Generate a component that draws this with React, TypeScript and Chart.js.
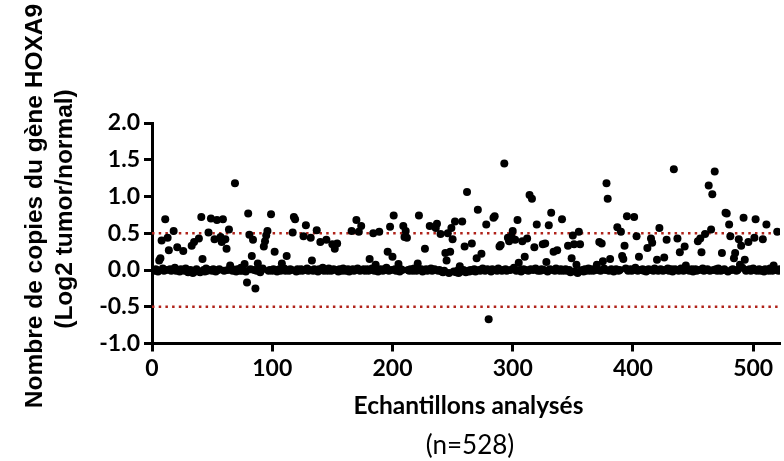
import React, { useEffect, useRef } from "react";
import { Chart, registerables } from "chart.js";

Chart.register(...registerables);

// ---- Data ----
const totalSamples = 528;

// Samples that stand out from the baseline (sample index, log2 tumor/normal)
const outlierSample = [
  6, 7, 8, 11, 13, 14, 18, 21, 26, 33,
  35, 39, 41, 42, 47, 49, 52, 54, 57, 58,
  59, 61, 62, 64, 65, 69, 77, 79, 80, 81,
  83, 84, 86, 88, 93, 94, 95, 96, 99, 102,
  108, 112, 117, 118, 119, 126, 128, 132, 133, 137,
  140, 145, 150, 152, 154, 166, 170, 172, 174, 181,
  184, 186, 189, 196, 198, 200, 201, 205, 209, 210,
  211, 212, 221, 222, 227, 231, 236, 237, 240, 244,
  245, 246, 248, 249, 250, 252, 256, 258, 260, 262,
  266, 270, 271, 274, 278, 280, 284, 285, 289, 290,
  293, 296, 297, 299, 300, 302, 304, 305, 308, 310,
  312, 314, 316, 318, 320, 325, 327, 328, 330, 332,
  334, 337, 341, 346, 349, 350, 351, 353, 355, 356,
  370, 372, 374, 375, 378, 379, 381, 387, 390, 391,
  392, 393, 395, 401, 403, 405, 412, 415, 416, 420,
  422, 426, 428, 434, 437, 439, 443, 444, 454, 456,
  457, 460, 463, 465, 466, 468, 474, 477, 478, 480,
  481, 484, 485, 488, 489, 490, 492, 493, 496, 501,
  502, 508, 511, 517, 520,
];
const outlierValue = [
  0.13, 0.16, 0.40, 0.69, 0.44, 0.27, 0.53, 0.31, 0.26, 0.33,
  0.38, 0.43, 0.72, 0.15, 0.51, 0.70, 0.42, 0.68, 0.45, 0.38,
  0.69, 0.42, 0.29, 0.55, 0.06, 1.18, 0.08, -0.17, 0.77, 0.48,
  0.19, 0.41, -0.25, 0.09, 0.32, 0.39, 0.47, 0.53, 0.76, 0.25,
  0.09, 0.19, 0.51, 0.72, 0.69, 0.46, 0.61, 0.44, 0.13, 0.54,
  0.38, 0.41, 0.35, 0.29, 0.36, 0.53, 0.68, 0.52, 0.60, 0.15,
  0.50, 0.07, 0.52, 0.25, 0.59, 0.18, 0.74, 0.08, 0.60, 0.45,
  0.53, 0.44, 0.09, 0.74, 0.29, 0.60, 0.57, 0.63, 0.49, 0.23,
  0.13, 0.50, 0.25, 0.57, 0.42, 0.66, 0.05, 0.66, 0.32, 1.06,
  0.36, 0.16, 0.82, 0.22, 0.62, -0.67, 0.71, 0.73, 0.32, 0.34,
  1.45, 0.44, 0.39, 0.46, 0.53, 0.41, 0.68, 0.10, 0.39, 0.18,
  0.43, 1.02, 0.97, 0.31, 0.62, 0.35, 0.36, 0.11, 0.61, 0.78,
  0.25, 0.27, 0.69, 0.33, 0.16, 0.47, 0.35, 0.07, 0.52, 0.35,
  0.07, 0.38, 0.36, 0.12, 1.18, 0.97, 0.15, 0.58, 0.52, 0.19,
  0.15, 0.33, 0.73, 0.72, 0.46, 0.18, 0.30, 0.43, 0.37, 0.14,
  0.57, 0.17, 0.41, 1.37, 0.43, 0.24, 0.32, 0.06, 0.39, 0.43,
  0.24, 0.49, 1.15, 0.55, 1.03, 1.34, 0.23, 0.78, 0.77, 0.62,
  0.46, 0.16, 0.23, 0.42, 0.07, 0.33, 0.71, 0.14, 0.38, 0.44,
  0.69, 0.42, 0.62, 0.06, 0.52,
];

// Remaining samples, in order, that sit in the band around zero
const baselineValue = [
  0, -0.01, 0.01, 0, -0.02, 0.02, -0.01, 0, 0.01, -0.01, 0, 0.03, -0.01, 0, -0.02, 0.01, 0, -0.01, 0.02, 0,
  -0.03, -0.01, 0, -0.04, -0.02, 0.01, -0.01, -0.03, 0, -0.02, 0.02, -0.01, 0, -0.01, 0.01, -0.02, 0, 0.01, -0.01, 0,
  0.02, -0.01, 0, -0.02, 0.01, 0, -0.01, 0.03, -0.01, 0, -0.02, 0.01, 0, -0.01, 0.01, -0.03, 0, 0.02, -0.01, 0,
  -0.01, 0.01, 0, -0.02, 0, 0.01, -0.01, 0, 0.02, -0.01, 0, -0.01, 0.01, 0, -0.02, 0.01, -0.01, 0, 0.01, -0.01,
  0, 0.02, -0.01, 0, -0.01, 0.01, 0, -0.02, 0.01, 0, 0.03, -0.01, 0, -0.01, 0.02, 0, -0.01, 0.01, 0, -0.02,
  0.01, 0, -0.01, 0.02, 0, -0.01, 0, 0.01, -0.02, 0, 0.01, -0.01, 0, 0.02, -0.01, 0, 0.01, -0.01, 0, 0.01,
  -0.01, 0, 0.02, -0.01, 0, -0.02, 0.01, 0, -0.01, 0.01, 0, 0.03, -0.01, 0, 0.01, -0.01, 0, -0.02, 0.01, 0,
  0, -0.01, 0.01, 0, -0.01, 0.02, 0, -0.01, 0, 0.01, -0.02, 0, 0.01, -0.01, 0, 0.02, -0.01, 0, 0.01, -0.01,
  0, -0.02, -0.03, -0.01, -0.04, -0.02, -0.03, -0.01, -0.04, -0.02, 0, -0.03, -0.01, -0.02, 0, -0.01, 0.01, -0.02, 0, -0.01,
  0.02, 0, -0.01, 0.01, 0, -0.02, 0.01, 0, -0.01, 0.02, -0.01, 0, 0.01, -0.01, 0, 0.03, -0.01, 0, -0.02, 0.01,
  0, -0.01, 0.01, 0, 0.02, -0.01, 0, -0.01, 0.01, 0, -0.02, 0.01, 0, -0.01, 0.02, 0, -0.01, 0.01, -0.01, 0,
  0.01, -0.01, 0, -0.03, -0.02, -0.04, -0.01, 0, -0.02, 0.01, -0.01, 0, 0.02, -0.01, 0, 0.01, -0.01, 0, 0.01, 0,
  -0.01, 0.02, 0, -0.01, 0.01, 0, -0.02, 0, 0.01, -0.01, 0, 0.02, -0.01, 0, 0.01, -0.01, 0, 0.03, -0.01, 0,
  0, 0.01, -0.01, 0, -0.02, 0.01, 0, -0.01, 0.02, 0, -0.01, 0.01, 0, -0.01, 0, 0.02, -0.01, 0, 0.01, -0.02,
  0.01, 0, -0.01, 0.02, 0, -0.01, 0.01, 0, -0.01, 0, 0.01, -0.02, 0, 0.01, -0.01, 0, 0.02, -0.01, 0, 0.01,
  -0.01, 0, 0.01, -0.01, 0.02, 0, -0.01, 0, 0.01, -0.02, 0, 0.01, -0.01, 0, 0.03, -0.01, 0, 0.01, -0.01, 0,
  0.02, -0.01, 0, 0.01, -0.01, 0, -0.02, 0.01, 0, -0.01, 0.02, 0, -0.01, 0.01, 0, -0.01, 0.01, 0, -0.01, 0,
  0.01, -0.01, 0,
];

const thresholdValues = [0.5, -0.5];
const xTickValues = [0, 100, 200, 300, 400, 500];
const yTickValues = [-1, -0.5, 0, 0.5, 1, 1.5, 2];
const xAxisMin = 0;
const xAxisMax = 522.3;
const yAxisMin = -1;
const yAxisMax = 2;
const yTitleLines = ["Nombre de copies du gène HOXA9", "(Log2 tumor/normal)"];
const xTitle = "Echantillons analysés";
const xSubtitle = "(n=528)";

function buildPoints() {
  const map = new Map<number, number>();
  outlierSample.forEach((s, i) => map.set(s, outlierValue[i]));
  const pts: { x: number; y: number }[] = [];
  let b = 0;
  for (let s = 1; s <= totalSamples; s++) {
    if (map.has(s)) {
      pts.push({ x: s, y: map.get(s) as number });
    } else if (b < baselineValue.length) {
      pts.push({ x: s, y: baselineValue[b++] });
    }
  }
  return pts;
}

const titlePlugin = {
  id: "customTitles",
  afterDraw(chart: any) {
    const ctx = chart.ctx as CanvasRenderingContext2D;
    ctx.save();
    ctx.fillStyle = "#000";
    ctx.textAlign = "center";
    ctx.textBaseline = "alphabetic";
    ctx.font = "bold 24.5px 'Liberation Sans', Arial, sans-serif";
    const yPos = [
      [42, 206],
      [72, 209],
    ];
    yTitleLines.forEach((t, i) => {
      ctx.save();
      ctx.translate(yPos[i][0], yPos[i][1]);
      ctx.rotate(-Math.PI / 2);
      ctx.fillText(t, 0, 0);
      ctx.restore();
    });
    ctx.font = "bold 24.5px Lato, sans-serif";
    ctx.fillText(xTitle, 468.5, 414);
    ctx.font = "26px Lato, sans-serif";
    ctx.fillText(xSubtitle, 470, 454);
    ctx.restore();
  },
};

export default function App() {
  const ref = useRef<HTMLCanvasElement | null>(null);

  useEffect(() => {
    document.body.style.margin = "0";
    if (!ref.current) return;
    const points = buildPoints();
    const thresholdSets = thresholdValues.map((t) => ({
      type: "line" as const,
      data: [
        { x: xAxisMin, y: t },
        { x: xAxisMax, y: t },
      ],
      borderColor: "#b0231a",
      borderWidth: 2.5,
      borderDash: [2.5, 4.2],
      pointRadius: 0,
      showLine: true,
      fill: false,
      order: 2,
    }));
    const tickFont = { family: "Lato, sans-serif", weight: "bold" as const, size: 23 };
    const chart = new Chart(ref.current, {
      type: "scatter",
      data: {
        datasets: [
          ...thresholdSets,
          {
            type: "scatter" as const,
            data: points,
            backgroundColor: "#000",
            borderColor: "#000",
            borderWidth: 0,
            pointRadius: 4,
            order: 1,
          },
        ] as any,
      },
      options: {
        animation: false,
        responsive: false,
        devicePixelRatio: 1,
        layout: { padding: { top: 123, right: 0, bottom: 0, left: 0 } },
        plugins: { legend: { display: false }, tooltip: { enabled: false } },
        scales: {
          x: {
            type: "linear",
            min: xAxisMin,
            max: xAxisMax,
            afterBuildTicks: (scale: any) => {
              scale.ticks = xTickValues.map((v) => ({ value: v }));
            },
            afterFit: (scale: any) => {
              scale.height = 461 - 343.5;
            },
            grid: {
              display: true,
              drawOnChartArea: false,
              drawTicks: true,
              tickLength: 8,
              tickWidth: 3,
              tickColor: "#000",
            },
            border: { display: true, width: 3, color: "#000" },
            ticks: {
              color: "#000",
              padding: 3,
              maxRotation: 0,
              autoSkip: false,
              font: tickFont,
            },
          },
          y: {
            type: "linear",
            min: yAxisMin,
            max: yAxisMax,
            afterBuildTicks: (scale: any) => {
              scale.ticks = yTickValues.map((v) => ({ value: v }));
            },
            afterFit: (scale: any) => {
              scale.width = 152;
            },
            grid: {
              display: true,
              drawOnChartArea: false,
              drawTicks: true,
              tickLength: 8,
              tickWidth: 3,
              tickColor: "#000",
            },
            border: { display: true, width: 3, color: "#000" },
            ticks: {
              color: "#000",
              padding: 4,
              autoSkip: false,
              callback: (v: any) => Number(v).toFixed(1),
              font: tickFont,
            },
          },
        },
      },
      plugins: [titlePlugin],
    });
    return () => chart.destroy();
  }, []);

  return (
    <div style={{ width: 784, height: 461 }}>
      <canvas ref={ref} width={784} height={461} style={{ display: "block", width: 784, height: 461 }} />
    </div>
  );
}
